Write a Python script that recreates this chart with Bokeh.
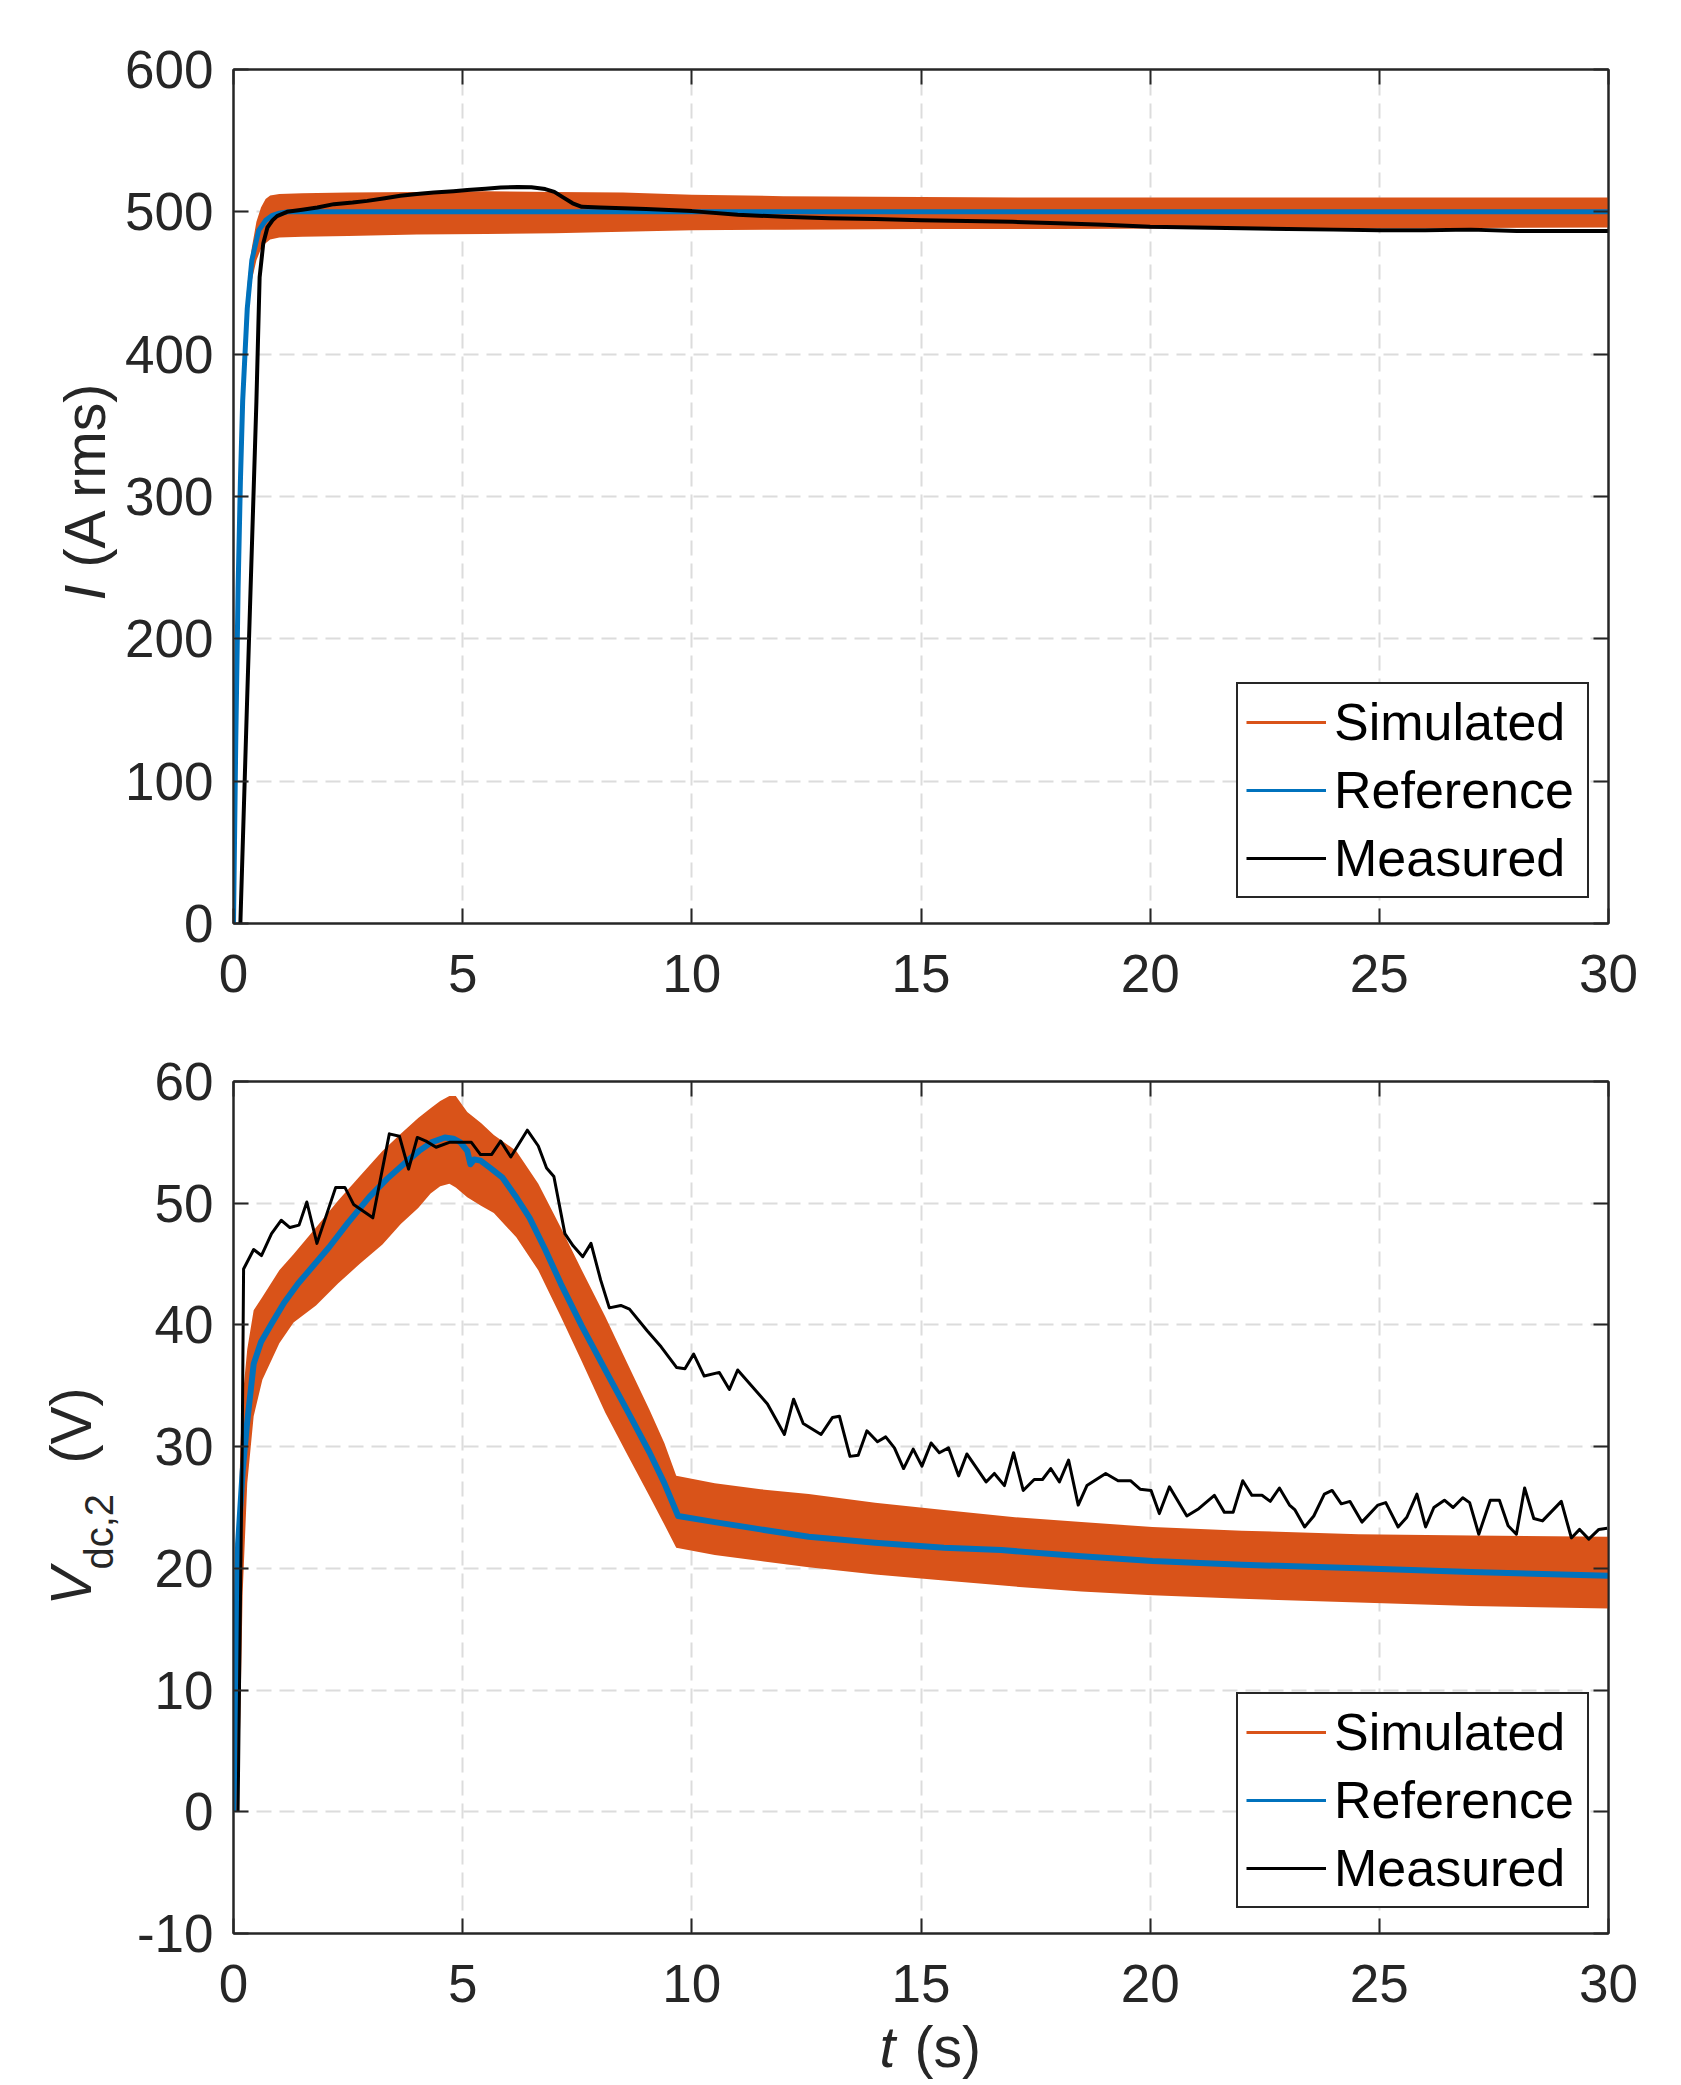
import math
from bokeh.plotting import figure
from bokeh.models import (Range1d, LinearAxis, FixedTicker, Legend, LegendItem,
                          Label, ColumnDataSource, Grid)
from bokeh.layouts import column
from bokeh.embed import file_html
from bokeh.resources import INLINE

# ---------------- data ----------------
X_TICKS = [0, 5, 10, 15, 20, 25, 30]
X_TICK_LABELS = ["0", "5", "10", "15", "20", "25", "30"]
I_TICKS = [0, 100, 200, 300, 400, 500, 600]
I_TICK_LABELS = ["0", "100", "200", "300", "400", "500", "600"]
V_TICKS = [-10, 0, 10, 20, 30, 40, 50, 60]
V_TICK_LABELS = ["-10", "0", "10", "20", "30", "40", "50", "60"]
SERIES = ["Simulated", "Reference", "Measured"]

# Top panel: current I (A rms)
SIM_I_T = [0, 0.05, 0.1, 0.15, 0.2, 0.25, 0.3, 0.35, 0.4, 0.5,
           0.6, 0.7, 0.8, 1.0, 1.5, 2.5, 4, 5.5, 7, 8.5,
           10, 12, 15, 18, 22, 26, 30]
SIM_I_HI = [0, 150, 255, 335, 392, 425, 448, 462, 475, 493,
            503, 509, 511.5, 512.5, 513, 513.5, 514, 514.5, 514, 513.5,
            512, 511, 510.5, 510, 510, 510, 510]
SIM_I_LO = [0, 90, 200, 280, 340, 385, 415, 438, 452, 466,
            474, 478, 480.5, 482, 482.5, 483, 484, 484.5, 485, 486,
            487, 487.5, 488, 488, 488.5, 488.5, 489]

REF_I_T = [0, 0.05, 0.1, 0.15, 0.2, 0.3, 0.4, 0.55, 0.7, 0.85, 1.0, 1.2, 30]
REF_I = [0, 130, 235, 310, 367, 432, 466, 487, 494, 497.5, 499, 500, 500]

MEAS_I_T = [0.15, 0.3, 0.5, 0.57, 0.65, 0.74, 0.85, 0.95, 1.17, 1.5,
            1.83, 2.19, 2.6, 2.92, 3.3, 3.64, 4.0, 4.37, 4.8, 5.1,
            5.5, 5.83, 6.2, 6.5, 6.8, 7.0, 7.2, 7.4, 7.6, 8.0,
            9.0, 10.0, 11.0, 12.0, 13.0, 14.0, 15.0, 16.0, 17.0, 18.0,
            19.0, 20.0, 21.0, 22.0, 23.0, 24.0, 25.0, 26.0, 27.0, 28.0,
            29.0, 30.0]
MEAS_I = [0, 160, 367, 454, 478, 489, 494, 497, 500, 501.5,
          503, 505.4, 506.5, 507.7, 509.5, 511.3, 512.5, 513.6, 514.5, 515.3,
          516.3, 517.1, 517.5, 517.3, 516, 514, 510, 506, 503.5, 503,
          502, 500.5, 498, 496.5, 495.5, 495, 494, 493.5, 493, 492,
          491, 489.5, 489, 488.5, 488, 487.5, 487, 487, 487.5, 486.5,
          486.5, 486.5]

# Bottom panel: V_dc,2 (V)
SIM_V_T = [0, 0.05, 0.1, 0.15, 0.2, 0.3, 0.44, 0.63, 1.0, 1.31,
           1.8, 2.28, 2.75, 3.25, 3.65, 4.03, 4.3, 4.51, 4.71, 4.85,
           5.1, 5.4, 5.68, 6.17, 6.65, 7.14, 7.6, 8.11, 8.6, 9.08,
           9.4, 9.66, 10.5, 11.5, 12.55, 14, 15.5, 17.05, 18.5, 20.05,
           22, 24.55, 27, 30]
SIM_V_HI = [0, 10, 22, 30, 34, 38, 41.2, 42.3, 44.5, 45.8,
            48.0, 50.2, 52.2, 54.3, 55.7, 57.0, 57.8, 58.4, 58.8, 58.8,
            57.5, 56.6, 55.6, 54.3, 51.6, 48.0, 44.5, 40.7, 36.8, 33.0,
            30.3, 27.6, 27.0, 26.5, 26.1, 25.4, 24.8, 24.2, 23.8, 23.4,
            23.1, 22.8, 22.7, 22.6]
SIM_V_LO = [0, 0, 0, 8, 18, 27, 32.5, 35.5, 38.5, 40.2,
            41.6, 43.4, 45.0, 46.6, 48.3, 49.6, 50.8, 51.4, 51.6, 51.3,
            50.5, 49.8, 49.2, 47.2, 44.5, 40.7, 37.0, 32.8, 29.3, 25.9,
            23.6, 21.7, 21.1, 20.6, 20.1, 19.5, 19.0, 18.5, 18.1, 17.8,
            17.5, 17.2, 16.9, 16.7]

REF_V_T = [0, 0.05, 0.1, 0.2, 0.29, 0.44, 0.6, 0.83, 1.1, 1.41,
           1.75, 2.09, 2.5, 2.96, 3.35, 3.74, 4.05, 4.32, 4.61, 4.8,
           4.95, 5.1, 5.17, 5.25, 5.39, 5.6, 5.87, 6.15, 6.46, 6.8,
           7.14, 7.6, 8.11, 8.6, 9.08, 9.4, 9.7, 10.5, 11.5, 12.55,
           14, 15.5, 16.75, 18.5, 20.05, 22, 24.55, 27, 30]
REF_V = [0, 12, 22, 28, 31.7, 36.8, 38.6, 40.1, 41.8, 43.4,
         44.9, 46.4, 48.4, 50.5, 52, 53.3, 54.3, 55.0, 55.4, 55.3,
         55.0, 54.3, 53.2, 53.6, 53.5, 52.9, 52.1, 50.6, 48.8, 46.2,
         43.4, 39.9, 36.3, 32.9, 29.5, 27.0, 24.3, 23.8, 23.2, 22.6,
         22.1, 21.7, 21.5, 21.0, 20.6, 20.3, 20.0, 19.7, 19.4]

MEAS_V_T = [0.1, 0.19, 0.22, 0.44, 0.61, 0.83, 1.04, 1.23, 1.43, 1.60,
            1.82, 2.23, 2.43, 2.62, 3.04, 3.40, 3.62, 3.82, 4.01, 4.2,
            4.42, 4.71, 5.19, 5.39, 5.63, 5.83, 6.05, 6.41, 6.65, 6.83,
            6.99, 7.23, 7.41, 7.62, 7.80, 8.01, 8.2, 8.45, 8.64, 9.03,
            9.33, 9.67, 9.85, 10.04, 10.27, 10.6, 10.82, 11.0, 11.65, 12.02,
            12.22, 12.43, 12.82, 13.07, 13.22, 13.45, 13.63, 13.82, 14.05, 14.23,
            14.42, 14.62, 14.83, 15.02, 15.22, 15.4, 15.6, 15.82, 16.0, 16.42,
            16.6, 16.82, 17.02, 17.23, 17.47, 17.65, 17.83, 18.02, 18.22, 18.43,
            18.62, 19.03, 19.3, 19.57, 19.78, 20.02, 20.2, 20.42, 20.8, 21.06,
            21.4, 21.62, 21.81, 22.02, 22.22, 22.44, 22.62, 22.82, 23.04, 23.16,
            23.37, 23.57, 23.8, 23.97, 24.17, 24.36, 24.62, 24.97, 25.14, 25.41,
            25.6, 25.82, 26.01, 26.19, 26.42, 26.61, 26.82, 26.97, 27.17, 27.42,
            27.62, 27.81, 27.99, 28.17, 28.37, 28.56, 28.97, 29.19, 29.37, 29.57,
            29.79, 29.97]
MEAS_V = [0, 30, 44.6, 46.2, 45.7, 47.5, 48.6, 48.0, 48.2, 50.1,
          46.7, 51.3, 51.3, 49.9, 48.8, 55.7, 55.5, 52.8, 55.4, 55.1,
          54.6, 55.0, 55.0, 54.0, 54.0, 55.1, 53.8, 56.0, 54.7, 52.9,
          52.2, 47.5, 46.5, 45.6, 46.7, 43.7, 41.4, 41.6, 41.3, 39.5,
          38.2, 36.5, 36.4, 37.6, 35.8, 36.1, 34.7, 36.3, 33.5, 31.0,
          33.9, 31.9, 31.0, 32.4, 32.5, 29.2, 29.3, 31.3, 30.4, 30.8,
          29.9, 28.2, 29.8, 28.4, 30.3, 29.5, 29.9, 27.6, 29.4, 27.1,
          27.8, 26.8, 29.5, 26.4, 27.3, 27.3, 28.2, 27.1, 28.9, 25.2,
          26.8, 27.8, 27.2, 27.2, 26.5, 26.4, 24.5, 26.7, 24.3, 24.9,
          26.0, 24.6, 24.6, 27.2, 26.0, 26.0, 25.5, 26.6, 25.2, 24.8,
          23.4, 24.3, 26.1, 26.4, 25.3, 25.5, 23.8, 25.2, 25.4, 23.4,
          24.2, 26.1, 23.4, 25.0, 25.6, 25.0, 25.8, 25.4, 22.8, 25.6,
          25.6, 23.5, 22.8, 26.6, 24.1, 23.9, 25.5, 22.5, 23.2, 22.4,
          23.2, 23.3]

# ---------------- style ----------------
FONT = "Liberation Sans"
AXC = "#262626"
ORANGE = "#D95319"
BLUE = "#0072BD"
BLACK = "#000000"
GRIDC = "#DCDCDC"
FRAME_W = 1375
FRAME_LEFT = 233      # page x of the plot frames
BORDER_LEFT = 420     # room for axis + labels (the column is shifted left)
TOP_FRAME_Y = 69      # page y of the top frame
BOT_FRAME_Y = 1081    # page y of the bottom frame
TICK_FS = "53px"
LABEL_FS = "57px"
SUB_FS = "40px"
ROT_SHIFT = 21        # correction of Bokeh's alphabetic baseline placement
HOR_SHIFT = 18
NAN = float("nan")


def make_fig(yr, yticks, ylabels, frame_h, top, bottom):
    p = figure(frame_width=FRAME_W, frame_height=frame_h,
               x_range=Range1d(0, 30), y_range=Range1d(*yr),
               output_backend="svg", toolbar_location=None,
               x_axis_type=None, y_axis_type=None,
               min_border_left=BORDER_LEFT, min_border_right=65,
               min_border_top=top, min_border_bottom=bottom)
    p.background_fill_color = "white"
    p.border_fill_color = "white"
    p.outline_line_color = AXC
    p.outline_line_width = 2
    xt = FixedTicker(ticks=X_TICKS)
    yt = FixedTicker(ticks=yticks)
    for side, ticker, ticks, labels in [("below", xt, X_TICKS, X_TICK_LABELS),
                                        ("left", yt, yticks, ylabels),
                                        ("above", xt, X_TICKS, None),
                                        ("right", yt, yticks, None)]:
        ax = LinearAxis(ticker=ticker)
        ax.axis_line_color = AXC
        ax.axis_line_width = 2
        ax.major_tick_line_color = AXC
        ax.major_tick_line_width = 2
        ax.major_tick_in = 15
        ax.major_tick_out = 0
        ax.minor_tick_line_color = None
        ax.major_label_text_font = FONT
        ax.major_label_text_font_size = TICK_FS
        ax.major_label_text_color = AXC
        if labels is not None:
            ax.major_label_overrides = {t: l for t, l in zip(ticks, labels)}
            ax.major_label_standoff = 31 if side == "below" else 20
        else:
            ax.major_label_overrides = {t: "" for t in ticks}
            ax.major_label_standoff = 0
        p.add_layout(ax, side)
    for dim, ticker in [(0, xt), (1, yt)]:
        g = Grid(dimension=dim, ticker=ticker)
        g.grid_line_color = GRIDC
        g.grid_line_width = 2
        g.grid_line_dash = "15 8"
        p.add_layout(g)
    return p


def add_series(p, sim_t, sim_lo, sim_hi, ref_t, ref, meas_t, meas, ref_w, meas_w):
    sim_src = ColumnDataSource(dict(t=sim_t, lo=sim_lo, hi=sim_hi))
    p.varea(x="t", y1="lo", y2="hi", source=sim_src,
            fill_color=ORANGE, fill_alpha=1.0)
    p.line(x="t", y="v", source=ColumnDataSource(dict(t=ref_t, v=ref)),
           line_color=BLUE, line_width=ref_w, line_join="round")
    p.line(x="t", y="v", source=ColumnDataSource(dict(t=meas_t, v=meas)),
           line_color=BLACK, line_width=meas_w, line_join="round")
    # legend-only keys (one undefined point, nothing is drawn in the plot)
    keys = []
    for c in (ORANGE, BLUE, BLACK):
        keys.append(p.line(x="t", y="v", source=ColumnDataSource(dict(t=[NAN], v=[NAN])),
                           line_color=c, line_width=3))
    leg = Legend(items=[LegendItem(label=s, renderers=[k]) for s, k in zip(SERIES, keys)],
                 location=(1003, 25), orientation="vertical",
                 label_text_font=FONT, label_text_font_size="52px",
                 label_text_color=BLACK, label_standoff=8, label_width=245,
                 label_height=60, glyph_width=80, glyph_height=60,
                 spacing=8, padding=8, margin=0,
                 border_line_color=AXC, border_line_width=2, border_line_alpha=1.0,
                 background_fill_color="white", background_fill_alpha=1.0)
    p.add_layout(leg)


def label(p, x, y, text, angle=0.0, italic=False, size=LABEL_FS):
    p.add_layout(Label(x=x, y=y, x_units="data", y_units="data", text=text,
                       angle=angle, text_font=FONT, text_font_size=size,
                       text_font_style="italic" if italic else "normal",
                       text_color=AXC, text_align="left",
                       text_baseline="alphabetic"), "left")


def tx(px):  # page pixel x -> t
    return (px - FRAME_LEFT) / FRAME_W * 30


def iy(py):  # page pixel y -> current
    return 600 - (py - TOP_FRAME_Y) * 600 / 854


def vy(py):  # page pixel y -> voltage
    return 60 - (py - BOT_FRAME_Y) * 70 / 852


# ---- top figure (frame on page: x 233..1608, y 69..923) ----
p1 = make_fig((0, 600), I_TICKS, I_TICK_LABELS, 854, TOP_FRAME_Y, 100)
add_series(p1, SIM_I_T, SIM_I_LO, SIM_I_HI, REF_I_T, REF_I, MEAS_I_T, MEAS_I, 5, 4)
label(p1, tx(105 - ROT_SHIFT), iy(600), "I", angle=math.pi / 2, italic=True)
label(p1, tx(105 - ROT_SHIFT), iy(567), "(A rms)", angle=math.pi / 2)

# ---- bottom figure (frame on page: x 233..1608, y 1081..1933) ----
TOP_H = TOP_FRAME_Y + 854 + 100
p2 = make_fig((-10, 60), V_TICKS, V_TICK_LABELS, 852, BOT_FRAME_Y - TOP_H,
              2084 - 852 - BOT_FRAME_Y)
add_series(p2, SIM_V_T, SIM_V_LO, SIM_V_HI, REF_V_T, REF_V, MEAS_V_T, MEAS_V, 6, 3)
label(p2, tx(91.5 - ROT_SHIFT), vy(1605), "V", angle=math.pi / 2, italic=True)
label(p2, tx(113 - ROT_SHIFT * 0.7), vy(1569), "dc,2", angle=math.pi / 2, size=SUB_FS)
label(p2, tx(91.5 - ROT_SHIFT), vy(1463), "(V)", angle=math.pi / 2)
label(p2, tx(879), vy(2064 - HOR_SHIFT), "t", italic=True)
label(p2, tx(914), vy(2064 - HOR_SHIFT), "(s)")

layout = column(p1, p2, spacing=0, margin=(0, 0, 0, FRAME_LEFT - BORDER_LEFT))
open("out.html", "w").write(file_html(layout, INLINE))
